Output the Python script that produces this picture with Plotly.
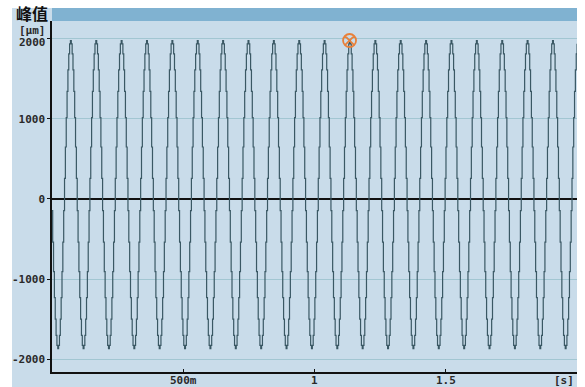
import numpy as np
import plotly.graph_objects as go

# One cycle of the sampled displacement signal [µm], starting at a positive peak
cycle_values = [1975, 1933, 1809, 1608, 1340, 1015, 648, 256, -146, -538,
                -905, -1230, -1498, -1699, -1823, -1865, -1823, -1699, -1498, -1230,
                -905, -538, -146, 256, 648, 1015, 1340, 1608, 1809, 1933]
sample_interval = 0.003222     # [s]
first_sample_time = -0.00058   # [s]
first_cycle_index = 8          # position inside the cycle of the first sample
sample_count = 622
marker_sample = 352            # peak highlighted by the cursor

# Axis ticks
y_ticks = [-2000, -1000, 0, 1000, 2000]
y_tick_text = ["-2000", "-1000", "0", "1000", ""]
x_ticks = [0.5, 1.0, 1.5]
x_tick_text = ["500m", "1", "1.5"]

idx = np.arange(sample_count)
t = first_sample_time + idx * sample_interval
values = np.array([cycle_values[(first_cycle_index + i) % len(cycle_values)] for i in idx])

W, H = 585, 387
L, R, T, B = 52, 8, 21, 15
pw, ph = W - L - R, H - T - B


def px_x(x):
    return (x - L) / pw


def px_y(y):
    return (H - B - y) / ph


fig = go.Figure()
fig.add_trace(go.Scatter(
    x=t, y=values, mode="lines", line=dict(color="#3a5864", width=1.2, shape="hv"),
    hoverinfo="skip", showlegend=False))
fig.add_trace(go.Scatter(
    x=[t[marker_sample]], y=[values[marker_sample]], mode="markers",
    marker=dict(symbol="circle-x-open", size=13, color="#e8803a", line=dict(width=1.8)),
    showlegend=False, hoverinfo="skip"))

tick_font = dict(family="DejaVu Sans Mono", size=11, color="#2a2a2a", weight="bold")

# x tick labels are placed tight under the axis line
x_label_notes = [
    dict(text=txt, xref="x", yref="paper", x=val, y=px_y(380),
         xanchor="center", yanchor="middle", showarrow=False, font=tick_font)
    for val, txt in zip(x_ticks, x_tick_text)
]

fig.update_layout(
    width=W, height=H,
    margin=dict(l=L, r=R, t=T, b=B),
    paper_bgcolor="white",
    plot_bgcolor="#b8d8e3",
    xaxis=dict(range=[0, 2.0], showgrid=False, zeroline=False, automargin=False,
               showline=True, linecolor="#111", linewidth=1.5,
               ticks="inside", ticklen=3, tickcolor="#111",
               tickvals=x_ticks, showticklabels=False),
    yaxis=dict(range=[-2156, 2218], showgrid=True, gridcolor="#a2c6d2", gridwidth=1,
               zeroline=True, zerolinecolor="#111", zerolinewidth=1.5, automargin=False,
               showline=True, linecolor="#111", linewidth=1.5,
               ticks="outside", ticklen=3, tickcolor="#111",
               tickvals=y_ticks, ticktext=y_tick_text, tickfont=tick_font),
    shapes=[
        # light blue panel behind the chart
        dict(type="rect", xref="paper", yref="paper", layer="below",
             x0=px_x(12), x1=px_x(577), y0=px_y(387), y1=px_y(8),
             fillcolor="#c9dcea", line=dict(width=0)),
        # header bar
        dict(type="rect", xref="paper", yref="paper", layer="above",
             x0=px_x(52), x1=px_x(577), y0=px_y(21), y1=px_y(8),
             fillcolor="#80b2d1", line=dict(width=0)),
    ],
    annotations=[
        dict(text="峰值", xref="paper", yref="paper", x=px_x(14), y=px_y(13),
             xanchor="left", yanchor="middle", showarrow=False,
             font=dict(family="Noto Sans CJK SC", size=16, color="#111", weight="bold")),
        dict(text="[μm]", xref="paper", yref="paper", x=px_x(48), y=px_y(31),
             xanchor="right", yanchor="middle", showarrow=False, font=tick_font),
        # top tick label sits a little below its gridline, under the unit
        dict(text="2000", xref="paper", yref="paper", x=px_x(48), y=px_y(43),
             xanchor="right", yanchor="middle", showarrow=False, font=tick_font),
        dict(text="[s]", xref="paper", yref="paper", x=px_x(576), y=px_y(380),
             xanchor="right", yanchor="middle", showarrow=False, font=tick_font),
    ] + x_label_notes,
)

fig.write_html("out.html")
